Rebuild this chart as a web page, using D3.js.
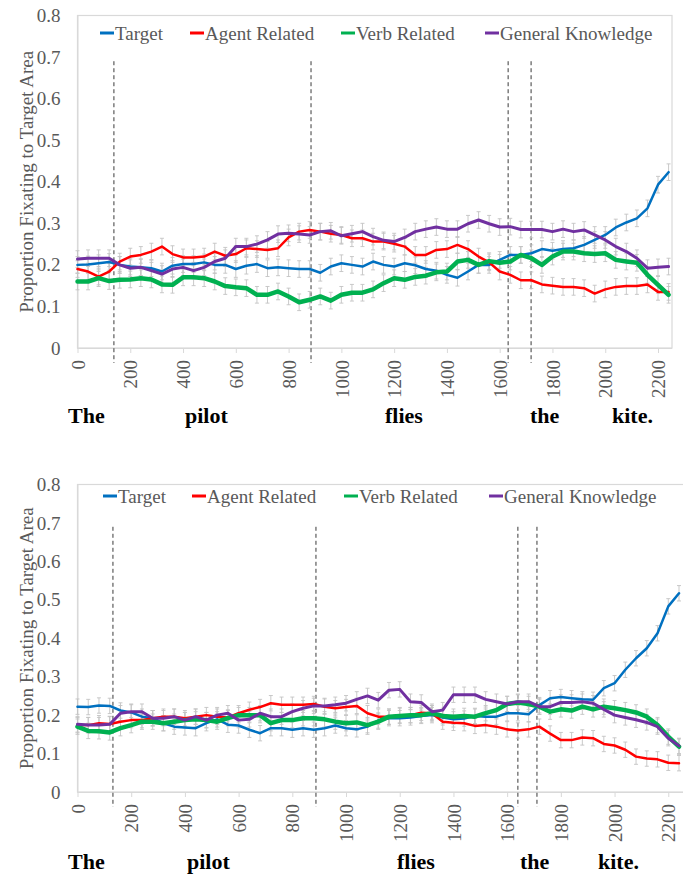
<!DOCTYPE html>
<html>
<head>
<meta charset="utf-8">
<script src="https://cdn.jsdelivr.net/npm/d3@7/dist/d3.min.js"></script>
<style>
  html, body { margin: 0; padding: 0; background: #fff; }
  svg { display: block; }
</style>
</head>
<body>
<svg id="chart" width="683" height="875"></svg>
<script>
// ---------------- DATA ----------------
const seriesNames = ["Target", "Agent Related", "Verb Related", "General Knowledge"];
const sampleTimes = d3.range(0, 2241, 40); // ms, 57 samples
const xTickLabels = [0, 200, 400, 600, 800, 1000, 1200, 1400, 1600, 1800, 2000, 2200];
const yTickLabels = [0, 0.1, 0.2, 0.3, 0.4, 0.5, 0.6, 0.7, 0.8];
const words = ["The", "pilot", "flies", "the", "kite."];

// Top panel
const topTarget = [0.2,0.201,0.204,0.207,0.2,0.196,0.194,0.192,0.184,0.198,
  0.202,0.202,0.206,0.2,0.2,0.19,0.198,0.202,0.192,0.194,
  0.192,0.19,0.19,0.181,0.196,0.204,0.2,
  0.196,0.208,0.2,0.196,0.204,0.199,0.19,0.186,0.176,0.169,
  0.184,0.2,0.2,0.212,0.224,0.224,0.228,0.238,0.234,0.238,
  0.24,0.248,0.26,0.272,0.29,0.302,0.312,0.336,0.393,0.423];
const topAgent = [0.19,0.184,0.172,0.184,0.208,0.22,0.224,0.232,0.244,0.226,
  0.218,0.218,0.22,0.232,0.222,0.226,0.24,0.238,0.236,0.24,
  0.266,0.28,0.284,0.28,0.275,0.272,0.264,
  0.264,0.256,0.256,0.251,0.244,0.224,0.224,0.236,0.238,0.248,
  0.238,0.22,0.206,0.184,0.176,0.163,0.163,0.153,0.15,0.147,
  0.147,0.144,0.131,0.141,0.147,0.149,0.149,0.153,0.135,0.135];
const topVerb = [0.16,0.16,0.168,0.161,0.164,0.165,0.168,0.165,0.153,0.152,
  0.17,0.17,0.168,0.16,0.149,0.146,0.144,0.128,0.128,0.136,
  0.124,0.11,0.116,0.124,0.114,0.128,0.133,
  0.133,0.141,0.156,0.168,0.164,0.171,0.174,0.182,0.184,0.208,
  0.212,0.2,0.209,0.205,0.208,0.224,0.216,0.2,0.22,0.232,
  0.232,0.228,0.226,0.228,0.212,0.208,0.205,0.176,0.152,0.128];
const topGeneral = [0.214,0.216,0.216,0.216,0.2,0.192,0.194,0.186,0.178,0.19,
  0.194,0.186,0.194,0.208,0.216,0.244,0.244,0.25,0.26,0.274,
  0.276,0.274,0.272,0.28,0.282,0.27,0.275,
  0.28,0.268,0.259,0.256,0.266,0.28,0.286,0.291,0.286,0.286,
  0.299,0.308,0.299,0.291,0.292,0.285,0.285,0.285,0.28,0.286,
  0.28,0.284,0.272,0.26,0.244,0.232,0.216,0.192,0.194,0.196];
const topError = 0.02;
const topWordOnsets = [138, 885, 1632, 1719];

// Bottom panel
const botTarget = [0.222,0.221,0.225,0.224,0.212,0.207,0.196,0.192,0.179,0.17,
  0.168,0.166,0.179,0.189,0.175,0.173,0.162,0.153,0.166,0.166,
  0.162,0.166,0.162,0.166,0.173,0.166,0.163,
  0.17,0.186,0.192,0.192,0.194,0.198,0.2,0.194,0.189,0.191,
  0.198,0.196,0.196,0.205,0.205,0.202,0.226,0.244,0.247,0.244,
  0.241,0.24,0.27,0.283,0.318,0.348,0.374,0.413,0.483,0.517];
const botAgent = [0.174,0.174,0.179,0.177,0.183,0.187,0.187,0.192,0.196,0.196,
  0.192,0.196,0.2,0.196,0.194,0.205,0.214,0.221,0.231,0.227,
  0.227,0.227,0.229,0.222,0.218,0.221,0.224,
  0.205,0.196,0.196,0.2,0.2,0.206,0.205,0.183,0.18,0.179,
  0.172,0.174,0.17,0.163,0.16,0.163,0.17,0.152,0.135,0.135,
  0.142,0.14,0.125,0.121,0.11,0.092,0.087,0.085,0.076,0.075];
const botVerb = [0.17,0.159,0.158,0.155,0.166,0.174,0.183,0.183,0.179,0.183,
  0.187,0.189,0.187,0.183,0.192,0.2,0.2,0.2,0.179,0.187,
  0.187,0.192,0.192,0.189,0.183,0.179,0.181,
  0.174,0.183,0.196,0.198,0.2,0.2,0.205,0.198,0.196,0.198,
  0.196,0.205,0.213,0.229,0.233,0.229,0.222,0.209,0.215,0.212,
  0.222,0.215,0.222,0.218,0.213,0.207,0.196,0.174,0.144,0.118];
const botGeneral = [0.176,0.174,0.174,0.176,0.205,0.209,0.209,0.192,0.192,0.196,
  0.187,0.196,0.187,0.2,0.205,0.187,0.189,0.205,0.196,0.196,
  0.209,0.218,0.224,0.224,0.227,0.231,0.241,
  0.25,0.239,0.265,0.267,0.235,0.233,0.209,0.213,0.253,0.253,
  0.253,0.241,0.235,0.229,0.235,0.235,0.222,0.222,0.233,0.233,
  0.235,0.231,0.215,0.2,0.194,0.188,0.181,0.17,0.14,0.12];
const botError = 0.02;
const botWordOnsets = [132, 888, 1640, 1711];

// ---------------- STYLE / LAYOUT ----------------
const colors = ["#0070C0", "#FF0000", "#00B050", "#7030A0"];
const widths = [2.5, 2.5, 4.5, 3];
const grayText = "#595959";
const serif = "'Liberation Serif', 'Times New Roman', serif";

const svg = d3.select("#chart");
svg.append("rect").attr("width", 683).attr("height", 875).attr("fill", "#fff");

function drawPanel(cfg) {
  const x = d3.scaleLinear().domain([0, 2253]).range([cfg.left, cfg.right]);
  const y = d3.scaleLinear().domain([0, 0.8]).range([cfg.bottom, cfg.top]);
  const g = svg.append("g");

  // plot border
  g.append("rect")
    .attr("x", cfg.left).attr("y", cfg.top)
    .attr("width", cfg.borderRight - cfg.left).attr("height", cfg.bottom - cfg.top)
    .attr("fill", "none").attr("stroke", "#d9d9d9").attr("stroke-width", 1.2);

  // y axis labels
  const yAxis = d3.axisLeft(y).tickValues(yTickLabels).tickSize(0).tickPadding(17)
    .tickFormat(v => v === 0 ? "0" : d3.format(".1f")(v));
  const ya = g.append("g").attr("transform", `translate(${cfg.left},0)`).call(yAxis);
  ya.select(".domain").attr("stroke", "#d9d9d9");
  ya.selectAll("text").attr("font-family", serif).attr("font-size", 19).attr("fill", grayText);

  // x axis
  const xAxis = d3.axisBottom(x).tickValues(xTickLabels).tickSize(5).tickSizeOuter(0).tickFormat(d3.format("d"));
  const xa = g.append("g").attr("transform", `translate(0,${cfg.bottom})`).call(xAxis);
  xa.select(".domain").attr("stroke", "#d9d9d9").attr("d", `M${cfg.left},0.5H${cfg.borderRight}`);
  xa.selectAll(".tick line").attr("stroke", "#d9d9d9");
  xa.selectAll("text")
    .attr("font-family", serif).attr("font-size", 19).attr("fill", grayText)
    .attr("text-anchor", "end")
    .attr("transform", "rotate(-90)")
    .attr("x", -12).attr("y", 0).attr("dy", "0.35em");

  // y title
  g.append("text")
    .attr("transform", `translate(26,${(cfg.top + cfg.bottom) / 2}) rotate(-90)`)
    .attr("text-anchor", "middle").attr("dy", "0.35em")
    .attr("font-family", serif).attr("font-size", 19).attr("fill", grayText)
    .text("Proportion Fixating to Target Area");

  // word onset dashed lines
  g.selectAll(".onset").data(cfg.onsets).enter().append("line")
    .attr("x1", d => x(d)).attr("x2", d => x(d))
    .attr("y1", y(0.69)).attr("y2", cfg.bottom + 15)
    .attr("stroke", "#3a3a3a").attr("stroke-width", 1).attr("stroke-dasharray", "4,3");

  const series = cfg.series.map((vals, i) => vals.map((v, j) => ({t: sampleTimes[j], v, i})));

  // error bars
  series.forEach(s => {
    const eb = g.append("g").attr("stroke", "#c3c3c3").attr("stroke-width", 0.9).attr("fill", "none");
    eb.selectAll("path").data(s).enter().append("path")
      .attr("d", d => {
        const xx = x(d.t), y1 = y(d.v - cfg.err), y2 = y(d.v + cfg.err);
        return `M${xx},${y1}V${y2}M${xx - 2},${y1}H${xx + 2}M${xx - 2},${y2}H${xx + 2}`;
      });
  });

  // lines
  const line = d3.line().x(d => x(d.t)).y(d => y(d.v));
  series.forEach((s, i) => {
    g.append("path").datum(s).attr("d", line)
      .attr("fill", "none").attr("stroke", colors[i]).attr("stroke-width", widths[i])
      .attr("stroke-linejoin", "round").attr("stroke-linecap", "round");
  });

  // legend
  seriesNames.forEach((name, i) => {
    const lx = cfg.legendX[i];
    g.append("line").attr("x1", lx).attr("x2", lx + 14)
      .attr("y1", cfg.legendY).attr("y2", cfg.legendY)
      .attr("stroke", colors[i]).attr("stroke-width", 3);
    g.append("text").attr("x", lx + 15).attr("y", cfg.legendY).attr("dy", "0.35em")
      .attr("font-family", serif).attr("font-size", 19).attr("fill", grayText)
      .text(name);
  });

  // sentence words
  words.forEach((w, i) => {
    g.append("text").attr("x", cfg.wordX[i]).attr("y", cfg.wordY)
      .attr("font-family", serif).attr("font-size", 22).attr("font-weight", "bold")
      .attr("fill", "#000").text(w);
  });
}

drawPanel({
  top: 15.5, bottom: 348, left: 77.5, right: 672, borderRight: 672,
  series: [topTarget, topAgent, topVerb, topGeneral], err: topError, onsets: topWordOnsets,
  legendX: [100, 190, 341, 485], legendY: 33,
  wordX: [68, 185, 385, 530, 612], wordY: 423
});
drawPanel({
  top: 484.5, bottom: 792, left: 77.5, right: 682.5, borderRight: 690,
  series: [botTarget, botAgent, botVerb, botGeneral], err: botError, onsets: botWordOnsets,
  legendX: [103, 192, 344, 489], legendY: 496,
  wordX: [68, 187, 397, 520, 598], wordY: 869
});
</script>
</body>
</html>
